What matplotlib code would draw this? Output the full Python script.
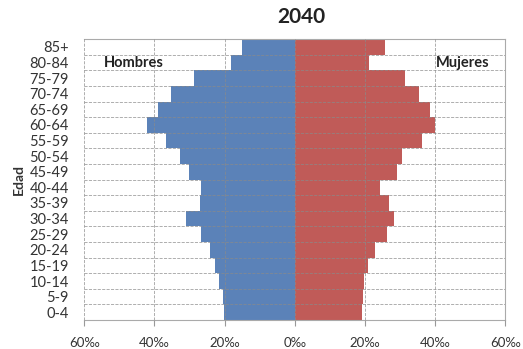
import numpy as np
import matplotlib.pyplot as plt
from matplotlib.ticker import FixedLocator

# data (per mil)
edades = ['0-4', '5-9', '10-14', '15-19', '20-24', '25-29', '30-34', '35-39', '40-44',
          '45-49', '50-54', '55-59', '60-64', '65-69', '70-74', '75-79', '80-84', '85+']
hombres = [20.2, 20.5, 21.6, 22.8, 24.2, 26.8, 31.1, 27.0, 26.8,
           30.0, 32.8, 36.6, 42.0, 39.0, 35.4, 28.6, 18.3, 15.0]
mujeres = [19.3, 19.5, 19.8, 21.0, 22.8, 26.4, 28.3, 26.8, 24.3,
           29.2, 30.5, 36.3, 39.9, 38.5, 35.5, 31.5, 21.3, 25.7]
xticks = [-60, -40, -20, 0, 20, 40, 60]
xticklabels = ['60‰', '40‰', '20‰', '0‰', '20‰', '40‰', '60‰']

plt.rcParams['font.family'] = ['Lato', 'DejaVu Sans']

fig = plt.figure(figsize=(5.23, 3.49), dpi=100)
ax = fig.add_axes([0.161, 0.083, 0.805, 0.805])

y = np.arange(len(edades))
ax.barh(y, -np.array(hombres), height=1.0, color='#5B82B8', zorder=2)
ax.barh(y, mujeres, height=1.0, color='#C05B58', zorder=2)

ax.set_xlim(-60, 60)
ax.set_ylim(-0.5, len(edades) - 0.5)
ax.set_xticks(xticks)
ax.set_xticklabels(xticklabels, fontsize=9.5, color='#333333')
ax.set_yticks(y)
ax.set_yticklabels(edades, fontsize=10.5, color='#333333')
ax.tick_params(axis='y', length=0, pad=11)
ax.tick_params(axis='x', length=4, color='#999999', pad=8)

# dashed grid: vertical at ticks, horizontal between age groups
ax.yaxis.set_minor_locator(FixedLocator(y[:-1] + 0.5))
ax.tick_params(axis='y', which='minor', length=0)
ax.grid(axis='x', which='major', linestyle='--', color='#8a8a8a', linewidth=0.6, alpha=0.8, zorder=3)
ax.grid(axis='y', which='minor', linestyle='--', color='#8a8a8a', linewidth=0.6, alpha=0.8, zorder=3)
ax.set_axisbelow(False)

for s in ['top', 'right', 'bottom']:
    ax.spines[s].set_color('#AAAAAA')
ax.spines['left'].set_visible(False)

fig.text(0.577, 0.95, '2040', fontsize=15, fontweight='bold', color='#222222', ha='center', va='center')
ax.set_ylabel('Edad', fontsize=10, fontweight='bold', color='#333333', labelpad=3)

ax.text(-54.5, 16, 'Hombres', fontsize=10.5, fontweight='bold', color='#222222', va='center', zorder=4)
ax.text(55.5, 16, 'Mujeres', fontsize=10.5, fontweight='bold', color='#222222', va='center', ha='right', zorder=4)

fig.savefig('out.png', dpi=100)
